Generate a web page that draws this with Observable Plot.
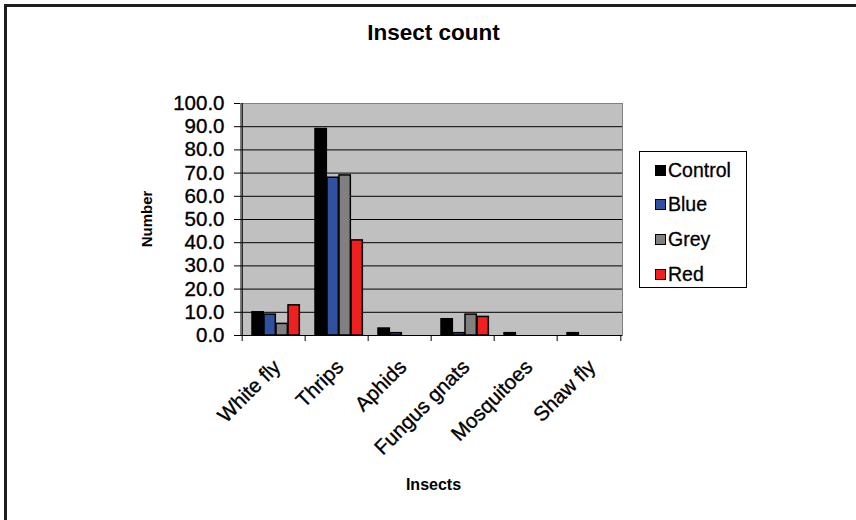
<!DOCTYPE html>
<html>
<head>
<meta charset="utf-8">
<script src="https://cdn.jsdelivr.net/npm/d3@7"></script>
<script src="https://cdn.jsdelivr.net/npm/@observablehq/plot@0.6"></script>
<style>
  html, body { margin: 0; padding: 0; background: #fff; }
  #wrap { position: relative; width: 856px; height: 520px; overflow: hidden; font-family: "Liberation Sans", Arial, sans-serif; color: #000; }
  #border { position: absolute; left: 4px; top: 4px; width: 900px; height: 600px; border-top: 3px solid #1e1e1e; border-left: 3px solid #1e1e1e; box-sizing: border-box; }
  #title { position: absolute; left: 0; width: 867px; top: 20px; text-align: center; font-weight: bold; font-size: 22.5px; }
  #chart { position: absolute; left: 0; top: 0; }
  #chart text { stroke: #000; stroke-width: 0.35px; }
  #ytitle { position: absolute; left: 146px; top: 219px; transform: translate(-50%, -50%) rotate(-90deg); font-weight: bold; font-size: 15px; white-space: nowrap; }
  #xtitle { position: absolute; left: 0; width: 867px; top: 476px; text-align: center; font-weight: bold; font-size: 16px; }
  #legend { position: absolute; left: 639px; top: 151px; width: 108px; height: 137px; border: 1px solid #000; box-sizing: border-box; }
  .item { position: absolute; left: 15px; height: 22px; display: flex; align-items: center; font-size: 19.5px; -webkit-text-stroke: 0.3px #000; }
  .sw { width: 9px; height: 9px; border: 1.5px solid #000; margin-right: 2px; }
</style>
</head>
<body>
<div id="wrap">
  <div id="border"></div>
  <div id="chart"></div>
  <div id="title">Insect count</div>
  <div id="ytitle">Number</div>
  <div id="xtitle">Insects</div>
  <div id="legend"></div>
</div>
<script>
const insects = ["White fly", "Thrips", "Aphids", "Fungus gnats", "Mosquitoes", "Shaw fly"];
const series = ["Control", "Blue", "Grey", "Red"];
const control = [10, 89, 3, 7, 1, 1];
const blue = [9, 68, 1, 1, 0, 0];
const grey = [5, 69, 0, 9, 0, 0];
const red = [13, 41, 0, 8, 0, 0];
const colors = ["#000000", "#3050a0", "#808080", "#ee2020"];
const yTicks = [0, 10, 20, 30, 40, 50, 60, 70, 80, 90, 100];

const values = [control, blue, grey, red];
const rows = insects.flatMap((ins, i) => series.map((s, j) => ({insect: ins, series: s, value: values[j][i]})));

const W = 856, H = 520, mL = 240, mR = 234, mT = 103, mB = 185;
const bw = (W - mL - mR) / insects.length;
const off = 10, barW = 12;

const barMarks = series.map((s, j) => Plot.barY(rows.filter(d => d.series === s && d.value > 0), {
  x: "insect", y: "value", fill: colors[j], stroke: "#000", strokeWidth: 1.5,
  insetLeft: off + j * barW, insetRight: bw - off - (j + 1) * barW
}));

const chart = Plot.plot({
  width: W, height: H,
  marginLeft: mL, marginRight: mR, marginTop: mT, marginBottom: mB,
  style: {background: "transparent", fontFamily: "'Liberation Sans', Arial, sans-serif", color: "#000"},
  x: {type: "band", domain: insects, padding: 0, axis: null},
  y: {domain: [0, 100], axis: null},
  marks: [
    Plot.frame({fill: "#c0c0c0", stroke: "#808080"}),
    Plot.ruleY(yTicks.filter(t => t > 0 && t < 100), {stroke: "#000", strokeWidth: 1}),
    ...barMarks,
    Plot.ruleY([0], {stroke: "#000", strokeWidth: 1.2}),
    Plot.ruleX([insects[0]], {x: d => d, dx: -bw / 2, y1: 0, y2: 100, stroke: "#000", strokeWidth: 1.2}),
    Plot.axisY({ticks: yTicks, tickFormat: d => d.toFixed(1), tickSize: 6, tickPadding: 10, fontSize: 20.5, label: null}),
    Plot.ruleX(insects, {x: d => d, dx: -bw / 2, y1: 0, y2: 0, insetBottom: -6, stroke: "#000"}),
    Plot.ruleX([insects[insects.length - 1]], {x: d => d, dx: bw / 2, y1: 0, y2: 0, insetBottom: -6, stroke: "#000"}),
    Plot.text(insects, {x: d => d, frameAnchor: "bottom", text: d => d, rotate: -45, textAnchor: "end", lineAnchor: "middle", dx: 3, dy: 28, fontSize: 20.5})
  ]
});
document.getElementById("chart").appendChild(chart);

const legend = document.getElementById("legend");
series.forEach((s, j) => {
  const it = document.createElement("div");
  it.className = "item";
  it.style.top = (7 + j * 34.7) + "px";
  const sw = document.createElement("span");
  sw.className = "sw";
  sw.style.background = colors[j];
  const t = document.createElement("span");
  t.textContent = s;
  it.appendChild(sw); it.appendChild(t);
  legend.appendChild(it);
});
</script>
</body>
</html>
